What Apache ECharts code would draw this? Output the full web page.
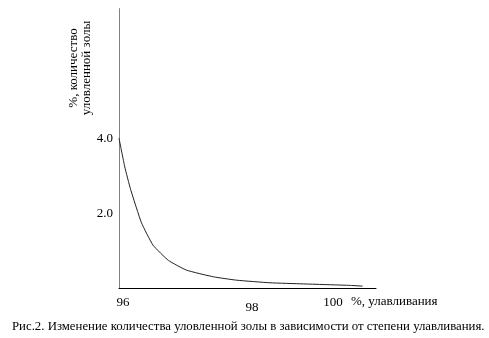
<!DOCTYPE html>
<html>
<head>
<meta charset="utf-8">
<script src="https://cdn.jsdelivr.net/npm/echarts@6/dist/echarts.min.js"></script>
<style>
  html, body { margin: 0; padding: 0; background: #fff; }
  #chart { width: 489px; height: 338px; }
</style>
</head>
<body>
<div id="chart"></div>
<script>
// Degree of capture, %
const capture = [96.0, 96.09, 96.18, 96.35, 96.53, 96.77, 97.05, 97.47, 97.83, 98.35, 98.87, 99.60, 99.79];
// Amount of captured ash, %
const ash = [4.02, 3.25, 2.65, 1.75, 1.15, 0.74, 0.48, 0.30, 0.21, 0.14, 0.11, 0.07, 0.05];

const xTicks = [96, 98, 100];
const yTicks = [2, 4];

const xName = '%, улавливания';
const yName = ['%, количество', 'уловленной золы'];
const caption = 'Рис.2. Изменение количества уловленной золы в зависимости от степени улавливания.';

const FONT = 'Liberation Serif';

const chart = echarts.init(document.getElementById('chart'), null, { renderer: 'canvas' });

chart.setOption({
  animation: false,
  backgroundColor: '#fff',
  grid: { left: 119, right: 113, top: 8.6, bottom: 50, containLabel: false },
  title: {
    text: caption,
    left: 12,
    top: 320,
    padding: 0,
    textStyle: { fontFamily: FONT, fontSize: 12.8, fontWeight: 'normal', color: '#000' }
  },
  xAxis: {
    type: 'value',
    min: 96,
    max: 100,
    name: xName,
    nameLocation: 'end',
    nameGap: -25,
    nameTextStyle: {
      fontFamily: FONT, fontSize: 13, color: '#000',
      align: 'left', verticalAlign: 'top', padding: [7, 0, 0, 0]
    },
    axisLine: { show: true, onZero: false, lineStyle: { color: '#000', width: 1 } },
    axisTick: { show: false },
    splitLine: { show: false },
    axisLabel: {
      customValues: xTicks,
      margin: 8,
      fontFamily: FONT,
      fontSize: 13,
      color: '#000',
      formatter: function (v) {
        const idx = xTicks.indexOf(v);
        return '{t' + idx + '|' + v + '}';
      },
      rich: {
        t0: { fontFamily: FONT, fontSize: 13, color: '#000', padding: [0, 0, 0, 8] },
        t1: { fontFamily: FONT, fontSize: 13, color: '#000', padding: [5, 0, 0, 9] },
        t2: { fontFamily: FONT, fontSize: 13, color: '#000', padding: [0, 86, 0, 0] }
      }
    }
  },
  yAxis: {
    type: 'value',
    min: 0,
    max: 7.5,
    axisLine: { show: true, onZero: false, lineStyle: { color: '#808080', width: 1 } },
    axisTick: { show: false },
    splitLine: { show: false },
    axisLabel: {
      customValues: yTicks,
      margin: 6,
      fontFamily: FONT,
      fontSize: 13,
      color: '#000',
      formatter: function (v) { return v.toFixed(1); }
    }
  },
  graphic: [{
    type: 'text',
    x: 80,
    y: 68,
    rotation: Math.PI / 2,
    style: {
      text: yName.join('\n'),
      fontFamily: FONT,
      fontSize: 13,
      lineHeight: 13,
      fill: '#000',
      align: 'center',
      verticalAlign: 'middle'
    }
  }],
  series: [{
    type: 'line',
    data: capture.map((c, i) => [c, ash[i]]),
    smooth: 0.15,
    showSymbol: false,
    lineStyle: { color: '#222', width: 1 }
  }]
});
</script>
</body>
</html>
